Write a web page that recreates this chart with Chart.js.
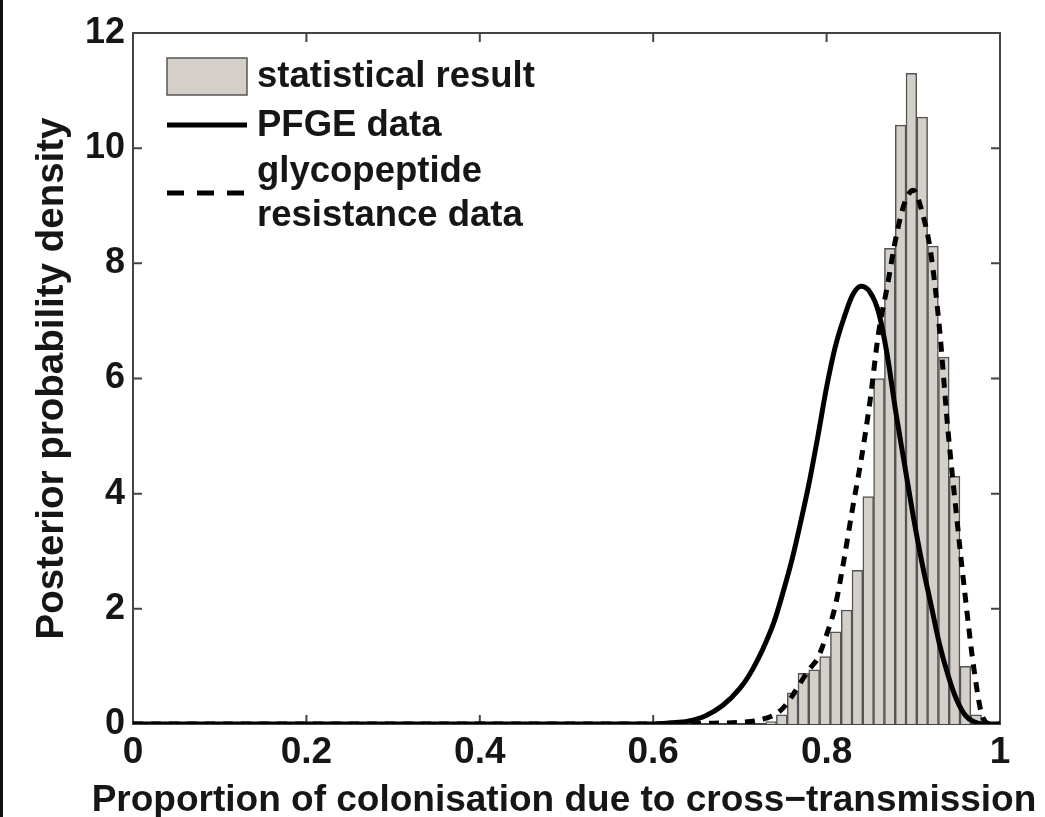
<!DOCTYPE html>
<html>
<head>
<meta charset="utf-8">
<script src="https://cdn.jsdelivr.net/npm/chart.js@4/dist/chart.umd.min.js"></script>
<style>
  html, body { margin: 0; padding: 0; background: #ffffff; }
  #wrap { width: 1045px; height: 817px; position: relative; }
  canvas { display: block; }
</style>
</head>
<body>
<div id="wrap"><canvas id="chart" width="1045" height="817"></canvas></div>
<script>
// Histogram of the posterior sample (bin centres and density per bin)
const binCenters = [0.7359, 0.7483, 0.7608, 0.7732, 0.7857, 0.7982, 0.8106, 0.8231, 0.8355, 0.8480,
                    0.8604, 0.8729, 0.8854, 0.8978, 0.9103, 0.9227, 0.9352, 0.9476, 0.9601, 0.9725];
const histDensity = [0.04, 0.16, 0.54, 0.88, 0.94, 1.17, 1.60, 1.98, 2.67, 3.95,
                     6.00, 8.26, 10.40, 11.30, 10.54, 8.30, 6.37, 4.30, 1.00, 0.16];

// Posterior density estimated from PFGE typing
const pfgeX = [0, 0.60, 0.62, 0.64, 0.66, 0.68, 0.70, 0.71, 0.72, 0.73, 0.74, 0.75, 0.76, 0.77, 0.78,
               0.79, 0.80, 0.81, 0.82, 0.83, 0.84, 0.85, 0.86, 0.87, 0.88, 0.89, 0.90, 0.91, 0.92,
               0.93, 0.94, 0.95, 0.96, 0.97, 0.98, 1.00];
const pfgeY = [0, 0, 0.02, 0.05, 0.14, 0.32, 0.62, 0.83, 1.10, 1.42, 1.80, 2.30, 2.85, 3.50, 4.20,
               5.00, 5.85, 6.55, 7.05, 7.45, 7.60, 7.50, 7.15, 6.40, 5.40, 4.50, 3.60, 2.80, 2.10,
               1.40, 0.85, 0.42, 0.15, 0.04, 0, 0];

// Posterior density estimated from glycopeptide resistance data
const glycoX = [0, 0.62, 0.66, 0.70, 0.72, 0.73, 0.74, 0.75, 0.76, 0.77, 0.78, 0.79, 0.80, 0.81, 0.82,
                0.83, 0.84, 0.85, 0.86, 0.87, 0.88, 0.89, 0.90, 0.91, 0.92, 0.93, 0.94, 0.95, 0.96,
                0.97, 0.98, 0.99, 1.00];
const glycoY = [0, 0, 0.01, 0.03, 0.06, 0.10, 0.16, 0.28, 0.48, 0.72, 0.95, 1.15, 1.55, 2.05, 2.85,
                3.75, 4.60, 5.60, 6.80, 7.60, 8.45, 9.05, 9.27, 8.90, 8.20, 6.90, 5.10, 3.60, 2.20,
                0.95, 0.12, 0, 0];

const xTickValues = [0, 0.2, 0.4, 0.6, 0.8, 1];
const xTickLabels = ['0', '0.2', '0.4', '0.6', '0.8', '1'];
const yTickValues = [0, 2, 4, 6, 8, 10, 12];
const yTickLabels = ['0', '2', '4', '6', '8', '10', '12'];

const seriesNames = ['statistical result', 'PFGE data', 'glycopeptide resistance data'];
const legendLines = [['statistical result'], ['PFGE data'], ['glycopeptide', 'resistance data']];
const xTitle = 'Proportion of colonisation due to cross\u2212transmission';
const yTitle = 'Posterior probability density';

const FONT = '"Liberation Sans", Arial, Helvetica, sans-serif';
const BAR_FILL = '#d4d0c9';
const BAR_EDGE = '#555555';

const zip = (xs, ys) => xs.map((v, i) => ({ x: v, y: ys[i] }));

// Box frame with inward ticks, legend, axis titles
const decorations = {
  id: 'decorations',
  beforeDatasetsDraw(chart) {
    const { ctx, chartArea: a, scales } = chart;
    ctx.save();
    ctx.strokeStyle = '#444444';
    ctx.lineWidth = 2;
    ctx.strokeRect(a.left, a.top, a.right - a.left, a.bottom - a.top);
    ctx.beginPath();
    const tl = 9;
    xTickValues.forEach(v => {
      const px = scales.x.getPixelForValue(v);
      ctx.moveTo(px, a.bottom); ctx.lineTo(px, a.bottom - tl);
      ctx.moveTo(px, a.top); ctx.lineTo(px, a.top + tl);
    });
    yTickValues.forEach(v => {
      const py = scales.y.getPixelForValue(v);
      ctx.moveTo(a.left, py); ctx.lineTo(a.left + tl, py);
      ctx.moveTo(a.right, py); ctx.lineTo(a.right - tl, py);
    });
    ctx.stroke();
    ctx.restore();
  },
  afterDraw(chart) {
    const { ctx, chartArea: a } = chart;
    ctx.save();
    // dark strip along the left edge of the figure
    ctx.fillStyle = '#111111';
    ctx.fillRect(0, 0, 3, chart.height);

    // legend
    const sx0 = 167, sx1 = 247, tx = 257;
    ctx.fillStyle = BAR_FILL;
    ctx.strokeStyle = BAR_EDGE;
    ctx.lineWidth = 1.5;
    ctx.fillRect(sx0, 58, sx1 - sx0, 37);
    ctx.strokeRect(sx0, 58, sx1 - sx0, 37);

    ctx.strokeStyle = '#000000';
    ctx.lineWidth = 5;
    ctx.beginPath(); ctx.moveTo(sx0, 125); ctx.lineTo(sx1, 125); ctx.stroke();
    ctx.setLineDash([17, 13]);
    ctx.beginPath(); ctx.moveTo(sx0, 193); ctx.lineTo(sx1, 193); ctx.stroke();
    ctx.setLineDash([]);

    ctx.fillStyle = '#161616';
    ctx.font = 'bold 36.5px ' + FONT;
    ctx.textAlign = 'left';
    ctx.textBaseline = 'middle';
    ctx.fillText(legendLines[0][0], tx, 77);
    ctx.fillText(legendLines[1][0], tx, 126);
    ctx.fillText(legendLines[2][0], tx, 172);
    ctx.fillText(legendLines[2][1], tx, 216);

    // axis titles
    ctx.font = 'bold 37px ' + FONT;
    ctx.textAlign = 'center';
    ctx.fillText(xTitle, 564, 801);
    ctx.save();
    ctx.translate(52, (a.top + a.bottom) / 2);
    ctx.rotate(-Math.PI / 2);
    ctx.font = 'bold 38.5px ' + FONT;
    ctx.fillText(yTitle, 0, 0);
    ctx.restore();
    ctx.restore();
  }
};

new Chart(document.getElementById('chart'), {
  type: 'bar',
  data: {
    datasets: [
      {
        type: 'bar',
        label: seriesNames[0],
        data: zip(binCenters, histDensity),
        backgroundColor: BAR_FILL,
        borderColor: BAR_EDGE,
        borderWidth: 1.5,
        barPercentage: 1.0,
        categoryPercentage: 1.0,
        order: 3
      },
      {
        type: 'line',
        label: seriesNames[1],
        data: zip(pfgeX, pfgeY),
        borderColor: '#000000',
        borderWidth: 5,
        pointRadius: 0,
        cubicInterpolationMode: 'monotone',
        fill: false,
        order: 2
      },
      {
        type: 'line',
        label: seriesNames[2],
        data: zip(glycoX, glycoY),
        borderColor: '#000000',
        borderWidth: 5,
        borderDash: [10, 8],
        pointRadius: 0,
        cubicInterpolationMode: 'monotone',
        fill: false,
        order: 1
      }
    ]
  },
  options: {
    responsive: false,
    animation: false,
    layout: { padding: { top: 33, right: 45, left: 0, bottom: 0 } },
    plugins: {
      legend: { display: false },
      tooltip: { enabled: false }
    },
    scales: {
      x: {
        type: 'linear',
        min: 0,
        max: 1,
        offset: false,
        grid: { display: false, drawTicks: false },
        border: { display: false },
        afterBuildTicks: s => { s.ticks = xTickValues.map(v => ({ value: v })); },
        afterFit: s => { s.height = 93; },
        ticks: {
          padding: 10,
          color: '#161616',
          maxRotation: 0,
          autoSkip: false,
          font: { family: FONT, size: 37, weight: 'bold', lineHeight: 1 },
          callback: (v, i) => xTickLabels[i]
        }
      },
      y: {
        min: 0,
        max: 12,
        grid: { display: false, drawTicks: false },
        border: { display: false },
        afterBuildTicks: s => { s.ticks = yTickValues.map(v => ({ value: v })); },
        afterFit: s => { s.width = 133; },
        ticks: {
          padding: 8,
          color: '#161616',
          font: { family: FONT, size: 36, weight: 'bold', lineHeight: 1 },
          callback: (v, i) => yTickLabels[i]
        }
      }
    }
  },
  plugins: [decorations]
});
</script>
</body>
</html>
